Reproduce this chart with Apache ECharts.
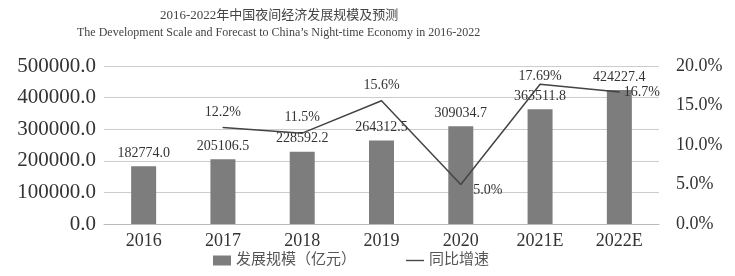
<!DOCTYPE html>
<html>
<head>
<meta charset="utf-8">
<script src="https://cdn.jsdelivr.net/npm/echarts@6/dist/echarts.min.js"></script>
<style>
    html, body { margin: 0; padding: 0; background: #fff; }
    #chart { width: 735px; height: 276px; }
</style>
</head>
<body>
<div id="chart"></div>
<script>
var years = ['2016', '2017', '2018', '2019', '2020', '2021E', '2022E'];
var scale = [182774.0, 205106.5, 228592.2, 264312.5, 309034.7, 363511.8, 424227.4];
var growth = [null, 12.2, 11.5, 15.6, 5.0, 17.69, 16.7];
var growthText = ['', '12.2%', '11.5%', '15.6%', '5.0%', '17.69%', '16.7%'];
var growthPos = ['top', 'top', 'top', 'top', 'right', 'top', 'right'];

var chart = echarts.init(document.getElementById('chart'));
var serif = 'Liberation Serif';

var lineData = growth.map(function (v, i) {
    var lbl = { position: growthPos[i], formatter: growthText[i] };
    if (i === 4) lbl.offset = [4, 6];
    if (i === 5) lbl.offset = [0, 8];
    if (i === 6) lbl.offset = [-4, 0];
    return { value: v, label: lbl };
});

var option = {
    backgroundColor: '#fff',
    textStyle: { fontFamily: serif },
    graphic: [
        {
            type: 'text', left: 160, top: 9,
            style: { text: '2016-2022年中国夜间经济发展规模及预测', font: '13px "Liberation Serif", "Noto Sans CJK SC"', fill: '#444' }
        },
        {
            type: 'text', left: 77, top: 27,
            style: { text: 'The Development Scale and Forecast to China\u2019s Night-time Economy in 2016-2022', font: '12px "Liberation Serif"', fill: '#444' }
        }
    ],
    legend: {
        bottom: 3,
        left: 208,
        itemGap: 50,
        itemWidth: 18,
        itemHeight: 10,
        textStyle: { fontFamily: '"Liberation Serif", "Noto Sans CJK SC"', fontSize: 15, color: '#555' },
        data: [
            { name: '发展规模（亿元）', icon: 'rect' },
            { name: '同比增速', icon: 'path://M0,5L20,5L20,6.5L0,6.5Z' }
        ]
    },
    grid: { left: 104, right: 76, top: 66, bottom: 52 },
    xAxis: {
        type: 'category',
        data: years,
        axisLine: { lineStyle: { color: '#bbb' } },
        axisTick: { show: false },
        axisLabel: { fontSize: 18, color: '#333', margin: 8, fontFamily: serif }
    },
    yAxis: [
        {
            type: 'value', min: 0, max: 500000, interval: 100000,
            axisLine: { show: false }, axisTick: { show: false },
            axisLabel: {
                fontSize: 21, color: '#333', margin: 8, fontFamily: serif,
                formatter: function (v) { return v.toFixed(1); }
            },
            splitLine: { lineStyle: { color: '#ccc' } }
        },
        {
            type: 'value', min: 0, max: 20, interval: 5,
            axisLine: { show: false }, axisTick: { show: false },
            axisLabel: {
                fontSize: 18, color: '#333', margin: 17, fontFamily: serif,
                formatter: function (v) { return v.toFixed(1) + '%'; }
            },
            splitLine: { show: false }
        }
    ],
    series: [
        {
            name: '发展规模（亿元）',
            type: 'bar',
            data: scale,
            barWidth: 25,
            itemStyle: { color: '#7d7d7d' },
            label: {
                show: true, position: 'top', distance: 6,
                fontSize: 14, color: '#333', fontFamily: serif,
                formatter: function (p) { return p.value.toFixed(1); }
            }
        },
        {
            name: '同比增速',
            type: 'line',
            yAxisIndex: 1,
            data: lineData,
            symbol: 'circle',
            symbolSize: 1,
            lineStyle: { color: '#444', width: 1.5 },
            itemStyle: { color: '#444' },
            label: { show: true, fontSize: 14, color: '#333', fontFamily: serif, distance: 8 }
        }
    ]
};

chart.setOption(option);
</script>
</body>
</html>
